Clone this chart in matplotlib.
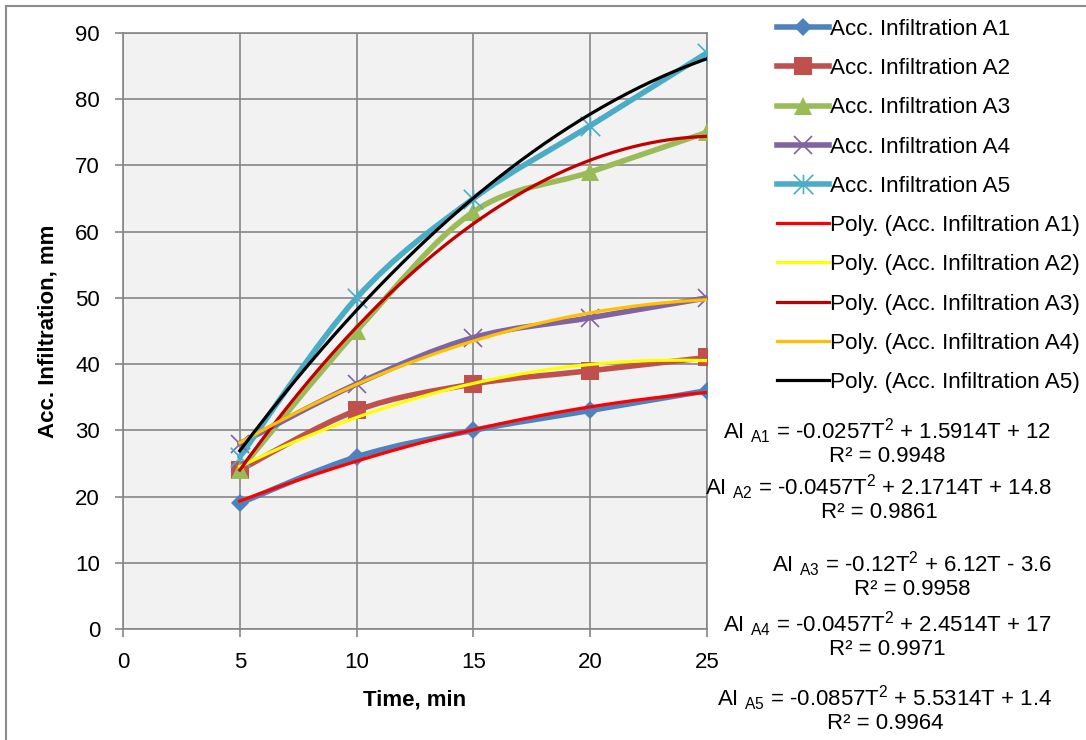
import matplotlib.pyplot as plt
from matplotlib.lines import Line2D
from matplotlib.patches import PathPatch, Rectangle
from matplotlib.path import Path
import numpy as np

plt.rcParams['font.family'] = ['Liberation Sans', 'DejaVu Sans']
plt.rcParams['font.size'] = 16
plt.rcParams['mathtext.fontset'] = 'custom'
plt.rcParams['mathtext.rm'] = 'Liberation Sans'

# measured accumulated infiltration, mm
time_min = [5, 10, 15, 20, 25]
acc_a1 = [19, 26, 30, 33, 36]
acc_a2 = [24, 33, 37, 39, 41]
acc_a3 = [24, 45, 63, 69, 75]
acc_a4 = [28, 37, 44, 47, 50]
acc_a5 = [26, 50, 65, 76, 87]

# quadratic trendline coefficients (T^2, T, const) and R^2
poly_a1 = [-0.0257, 1.5914, 12]
poly_a2 = [-0.0457, 2.1714, 14.8]
poly_a3 = [-0.12, 6.12, -3.6]
poly_a4 = [-0.0457, 2.4514, 17]
poly_a5 = [-0.0857, 5.5314, 1.4]
r2_values = ['0.9948', '0.9861', '0.9958', '0.9971', '0.9964']
eq_labels = ['AI $_{\\mathrm{A1}}$ = -0.0257T$^{2}$ + 1.5914T + 12',
             'AI $_{\\mathrm{A2}}$ = -0.0457T$^{2}$ + 2.1714T + 14.8',
             'AI $_{\\mathrm{A3}}$ = -0.12T$^{2}$ + 6.12T - 3.6',
             'AI $_{\\mathrm{A4}}$ = -0.0457T$^{2}$ + 2.4514T + 17',
             'AI $_{\\mathrm{A5}}$ = -0.0857T$^{2}$ + 5.5314T + 1.4']

series_names = ['A1', 'A2', 'A3', 'A4', 'A5']
series_values = [acc_a1, acc_a2, acc_a3, acc_a4, acc_a5]
poly_coefs = [poly_a1, poly_a2, poly_a3, poly_a4, poly_a5]

series_colors = ['#4F81BD', '#C0504D', '#9BBB59', '#8064A2', '#4BACC6']
trend_colors = ['#FF0000', '#FFFF00', '#C00000', '#FFC000', '#000000']

# excel style "star": an x with a vertical bar
star = Path([(-1, -1), (1, 1), (-1, 1), (1, -1), (0, -1), (0, 1)],
            [Path.MOVETO, Path.LINETO, Path.MOVETO, Path.LINETO,
             Path.MOVETO, Path.LINETO])
marker_styles = [
    dict(marker='D', markersize=9.5, mew=0),
    dict(marker='s', markersize=13, mew=0),
    dict(marker='^', markersize=13, mew=0),
    dict(marker='x', markersize=13, mew=1.2),
    dict(marker=star, markersize=14, mew=1.2),
]


def smooth_path(xs, ys):
    """Bezier path through the points, like Excel's smoothed line."""
    pts = np.column_stack([xs, ys]).astype(float)
    verts = [pts[0]]
    codes = [Path.MOVETO]
    n = len(pts)
    for i in range(n - 1):
        p0 = pts[max(i - 1, 0)]
        p1 = pts[i]
        p2 = pts[i + 1]
        p3 = pts[min(i + 2, n - 1)]
        verts += [p1 + (p2 - p0) / 6, p2 - (p3 - p1) / 6, p2]
        codes += [Path.CURVE4] * 3
    return Path(verts, codes)


fig = plt.figure(figsize=(10.86, 7.4), dpi=100)
W, H = 1086, 740
ax = fig.add_axes([123 / W, 1 - 629 / H, (707 - 123) / W, (629 - 33) / H])
ax.set_facecolor('#F2F2F2')

grid_color = '#868686'
for x in range(0, 26, 5):
    ax.axvline(x, color=grid_color, lw=1.2, zorder=0)
for y in range(0, 91, 10):
    ax.axhline(y, color=grid_color, lw=1.2, zorder=0)

handles = []
for vals, col, mk in zip(series_values, series_colors, marker_styles):
    ax.add_patch(PathPatch(smooth_path(time_min, vals), fill=False,
                           edgecolor=col, lw=4.0, capstyle='round',
                           zorder=2))
    ax.plot(time_min, vals, ls='none', color=col, mec=col, zorder=3, **mk)
    handles.append(Line2D([], [], color=col, lw=4.0, mec=col, **mk))

t = np.linspace(time_min[0], time_min[-1], 200)
for coef, col in zip(poly_coefs, trend_colors):
    ax.plot(t, np.polyval(coef, t), color=col, lw=2.3, zorder=4)
    handles.append(Line2D([], [], color=col, lw=2.3))

ax.set_xlim(0, 25)
ax.set_ylim(0, 90)
ax.set_xticks(range(0, 26, 5))
ax.set_yticks(range(0, 91, 10))
for s in ax.spines.values():
    s.set_color(grid_color)
    s.set_linewidth(1.2)
ax.tick_params(colors=grid_color, labelcolor='black', length=5.5,
               width=1.2, pad=11, labelsize=16)
ax.set_xlabel('Time, min', fontweight='bold', fontsize=16, labelpad=12)
ax.set_ylabel('Acc. Infiltration, mm', fontweight='bold', fontsize=16,
              labelpad=12)

labels = ['Acc. Infiltration ' + n for n in series_names] + \
         ['Poly. (Acc. Infiltration ' + n + ')' for n in series_names]
fig.legend(handles, labels, loc='upper left',
           bbox_to_anchor=(768 / W, 1 - 10 / H), frameon=False,
           handlelength=2.3, handletextpad=0.05, labelspacing=0.81,
           borderaxespad=0, fontsize=16.2)

# trendline equations under the legend
eq_pos = [(887, 442), (879, 498), (912, 575), (887, 635), (885, 709)]
for (x, y), eq, r2 in zip(eq_pos, eq_labels, r2_values):
    fig.text(x / W, 1 - y / H, eq + '\nR² = ' + r2, ha='center',
             va='center', multialignment='center', fontsize=16,
             linespacing=1.0)

fig.patches.append(Rectangle((6 / W, -0.05), 1.2, 1 - 6 / H + 0.05,
                             transform=fig.transFigure, fill=False,
                             edgecolor='#8C8C8C', lw=1.5))

fig.savefig('out.png', dpi=100)
